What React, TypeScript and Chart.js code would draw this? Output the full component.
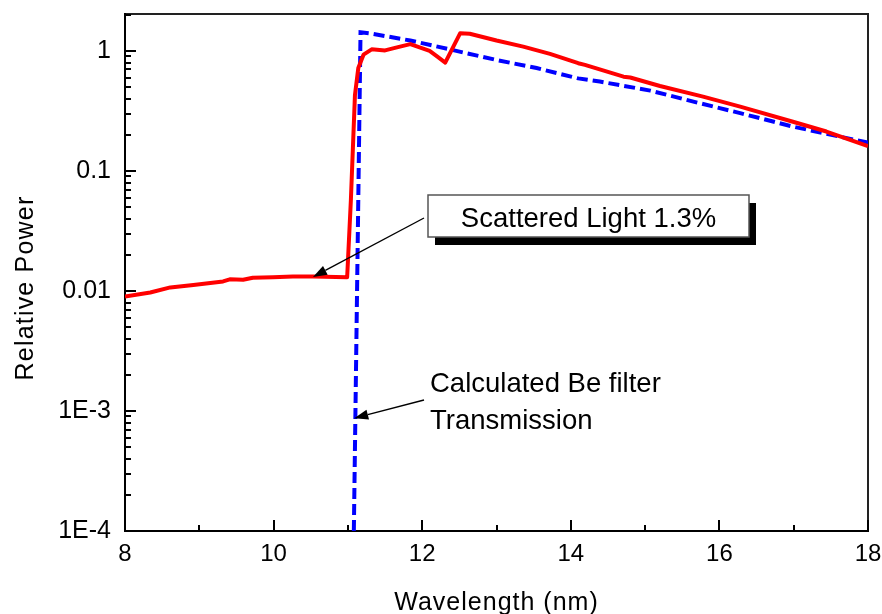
import { useEffect, useRef } from "react";
import { Chart, registerables } from "chart.js";

Chart.register(...registerables);

const FONT = '"Liberation Sans", Arial, Helvetica, sans-serif';

// Measured spectrum (scattered light through the filter)
const RED_WL = [
  8.0, 8.34, 8.61, 8.92, 9.32, 9.41, 9.59, 9.72, 9.99, 10.26, 10.53, 10.99,
  11.04, 11.095, 11.14, 11.21, 11.32, 11.5, 11.66, 11.84, 12.1, 12.2, 12.31,
  12.51, 12.64, 13.0, 13.36, 13.72, 14.1, 14.19, 14.71, 14.8, 15.2, 15.78,
  16.28, 16.99, 17.44, 18.0,
];
const RED_POWER = [
  0.009, 0.0097, 0.0107, 0.0112, 0.012, 0.0125, 0.0124, 0.0129, 0.013, 0.0132,
  0.0132, 0.013, 0.057, 0.43, 0.72, 0.93, 1.03, 1.01, 1.07, 1.14, 1.0, 0.9,
  0.8, 1.4, 1.39, 1.22, 1.085, 0.944, 0.79, 0.764, 0.61, 0.6, 0.51, 0.416,
  0.343, 0.257, 0.213, 0.161,
];

// Calculated Be filter transmission
const BLUE_WL = [
  11.08, 11.17, 11.3, 11.84, 12.37, 13.0, 13.54, 14.1, 14.39, 15.07, 15.65,
  16.28, 16.99, 18.0,
];
const BLUE_POWER = [
  1e-4, 1.43, 1.4, 1.22, 1.03, 0.84, 0.72, 0.59, 0.555, 0.467, 0.378, 0.303,
  0.234, 0.172,
];

const X_MIN = 8;
const X_MAX = 18;
const Y_MIN = 1e-4;
const Y_MAX = 2.03;
const Y_TICKS = [1e-4, 1e-3, 0.01, 0.1, 1];
const Y_TICK_LABELS = ["1E-4", "1E-3", "0.01", "0.1", "1"];

const X_TITLE = "Wavelength (nm)";
const Y_TITLE = "Relative Power";
const SCATTER_LABEL = "Scattered Light 1.3%";
const FILTER_LABEL = ["Calculated Be filter", "Transmission"];
const SCATTER_TIP = { x: 10.53, y: 0.0131 };
const FILTER_TIP = { x: 11.085, y: 8.7e-4 };

function arrow(
  ctx: CanvasRenderingContext2D,
  x1: number,
  y1: number,
  x2: number,
  y2: number
) {
  const a = Math.atan2(y2 - y1, x2 - x1);
  const len = 14;
  const hw = 5;
  const bx = x2 - len * Math.cos(a);
  const by = y2 - len * Math.sin(a);
  ctx.strokeStyle = "#000";
  ctx.lineWidth = 1.4;
  ctx.beginPath();
  ctx.moveTo(x1, y1);
  ctx.lineTo(bx, by);
  ctx.stroke();
  ctx.fillStyle = "#000";
  ctx.beginPath();
  ctx.moveTo(x2, y2);
  ctx.lineTo(bx + hw * Math.sin(a), by - hw * Math.cos(a));
  ctx.lineTo(bx - hw * Math.sin(a), by + hw * Math.cos(a));
  ctx.closePath();
  ctx.fill();
}

const framePlugin = {
  id: "frameAndTicks",
  beforeDraw(chart: any) {
    const { ctx, width, height } = chart;
    ctx.save();
    ctx.fillStyle = "#fff";
    ctx.fillRect(0, 0, width, height);
    ctx.restore();
  },
  beforeDatasetsDraw(chart: any) {
    const { ctx, chartArea, scales } = chart;
    const { left, right, top, bottom } = chartArea;
    const xs = scales.x;
    const ys = scales.y;
    ctx.save();
    ctx.lineCap = "butt";
    // top and right frame
    ctx.strokeStyle = "#222";
    ctx.lineWidth = 2;
    ctx.beginPath();
    ctx.moveTo(left, top);
    ctx.lineTo(right, top);
    ctx.lineTo(right, bottom);
    ctx.stroke();
    // axes
    ctx.strokeStyle = "#000";
    ctx.beginPath();
    ctx.moveTo(left, top - 1);
    ctx.lineTo(left, bottom);
    ctx.lineTo(right + 1, bottom);
    ctx.stroke();
    // log ticks, pointing inward
    ctx.beginPath();
    for (let e = -4; e <= 0; e++) {
      for (let k = 1; k <= 9; k++) {
        const v = k * Math.pow(10, e);
        if (v > Y_MAX) break;
        const py = Math.round(ys.getPixelForValue(v));
        const len = k === 1 ? 11 : 6;
        ctx.moveTo(left, py);
        ctx.lineTo(left + len, py);
      }
    }
    for (let v = X_MIN; v <= X_MAX; v++) {
      const px = Math.round(xs.getPixelForValue(v));
      const len = v % 2 === 0 ? 11 : 6;
      ctx.moveTo(px, bottom);
      ctx.lineTo(px, bottom - len);
    }
    ctx.stroke();
    ctx.restore();
  },
  afterDatasetsDraw(chart: any) {
    const { ctx, chartArea, scales } = chart;
    const xs = scales.x;
    const ys = scales.y;
    ctx.save();

    // axis titles
    ctx.fillStyle = "#000";
    ctx.font = `25px ${FONT}`;
    ctx.textAlign = "center";
    ctx.textBaseline = "alphabetic";
    (ctx as any).letterSpacing = "1px";
    ctx.fillText(X_TITLE, (chartArea.left + chartArea.right) / 2, 610);
    ctx.save();
    ctx.translate(33, 288);
    ctx.rotate(-Math.PI / 2);
    (ctx as any).letterSpacing = "1.2px";
    ctx.fillText(Y_TITLE, 0, 0);
    ctx.restore();
    (ctx as any).letterSpacing = "0px";

    // scattered light callout box with drop shadow
    const bx = 428;
    const by = 195;
    const bw = 321;
    const bh = 42;
    ctx.fillStyle = "#000";
    ctx.fillRect(bx + 7, by + 8, bw, bh);
    ctx.fillStyle = "#fff";
    ctx.fillRect(bx, by, bw, bh);
    ctx.strokeStyle = "#555";
    ctx.lineWidth = 1.5;
    ctx.strokeRect(bx, by, bw, bh);
    ctx.fillStyle = "#000";
    ctx.font = `27.5px ${FONT}`;
    ctx.textAlign = "center";
    ctx.fillText(SCATTER_LABEL, bx + bw / 2, 227);
    arrow(
      ctx,
      424,
      218,
      xs.getPixelForValue(SCATTER_TIP.x),
      ys.getPixelForValue(SCATTER_TIP.y)
    );

    // filter transmission label
    ctx.fillStyle = "#000";
    ctx.textAlign = "left";
    ctx.font = `27.5px ${FONT}`;
    ctx.fillText(FILTER_LABEL[0], 430, 392);
    ctx.fillText(FILTER_LABEL[1], 430, 429);
    arrow(
      ctx,
      424,
      400,
      xs.getPixelForValue(FILTER_TIP.x),
      ys.getPixelForValue(FILTER_TIP.y)
    );

    ctx.restore();
  },
};

export default function App() {
  const canvasRef = useRef<HTMLCanvasElement | null>(null);

  useEffect(() => {
    const canvas = canvasRef.current;
    if (!canvas) return;
    const chart = new Chart(canvas, {
      type: "line",
      data: {
        datasets: [
          {
            label: "Measured",
            data: RED_WL.map((x, i) => ({ x, y: RED_POWER[i] })),
            borderColor: "#ff0000",
            borderWidth: 4,
            pointRadius: 0,
            tension: 0,
            fill: false,
            borderJoinStyle: "round",
          },
          {
            label: "Calculated Be filter",
            data: BLUE_WL.map((x, i) => ({ x, y: BLUE_POWER[i] })),
            borderColor: "#0000ff",
            borderWidth: 4,
            borderDash: [11, 5],
            pointRadius: 0,
            tension: 0,
            fill: false,
            borderJoinStyle: "miter",
          },
        ],
      },
      options: {
        animation: false,
        responsive: false,
        devicePixelRatio: 1,
        layout: { padding: { top: 14, right: 14, left: 0, bottom: 0 } },
        plugins: {
          legend: { display: false },
          tooltip: { enabled: false },
        },
        scales: {
          x: {
            type: "linear",
            min: X_MIN,
            max: X_MAX,
            grid: { display: false, drawTicks: false },
            border: { display: false },
            ticks: {
              stepSize: 2,
              padding: 9,
              color: "#000",
              font: { family: FONT, size: 24 },
              maxRotation: 0,
            },
            afterFit(scale: any) {
              scale.height = 83;
              scale.paddingLeft = 0;
              scale.paddingRight = 0;
            },
          },
          y: {
            type: "logarithmic",
            min: Y_MIN,
            max: Y_MAX,
            grid: { display: false, drawTicks: false },
            border: { display: false },
            ticks: {
              padding: 14,
              color: "#000",
              autoSkip: false,
              font: { family: FONT, size: 25 },
              callback: (value: any) => {
                const i = Y_TICKS.findIndex(
                  (t) => Math.abs(Math.log10(t) - Math.log10(value)) < 1e-6
                );
                return i >= 0 ? Y_TICK_LABELS[i] : "";
              },
            },
            afterBuildTicks(scale: any) {
              scale.ticks = Y_TICKS.map((value) => ({ value }));
            },
            afterFit(scale: any) {
              scale.width = 125;
              scale.paddingTop = 0;
              scale.paddingBottom = 0;
            },
          },
        },
      },
      plugins: [framePlugin],
    } as any);
    return () => chart.destroy();
  }, []);

  return (
    <div
      style={{
        position: "fixed",
        left: 0,
        top: 0,
        width: 882,
        height: 614,
        background: "#fff",
      }}
    >
      <canvas ref={canvasRef} width={882} height={614} />
    </div>
  );
}
